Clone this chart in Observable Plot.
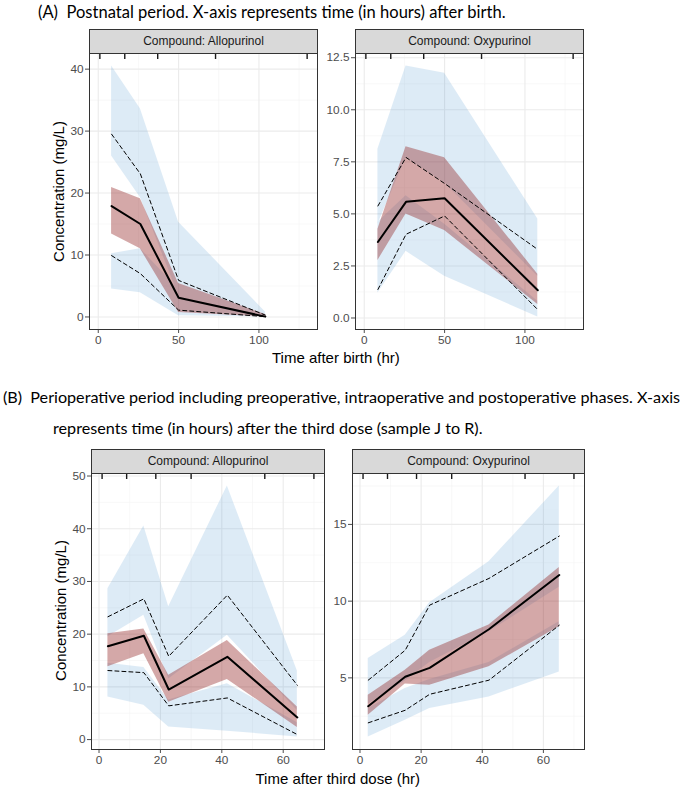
<!DOCTYPE html>
<html><head><meta charset="utf-8">
<script src="https://cdn.jsdelivr.net/npm/d3@7"></script>
<script src="https://cdn.jsdelivr.net/npm/@observablehq/plot@0.6"></script>
<style>
body{margin:0;background:#fff;}
#root{position:relative;width:685px;height:789px;overflow:hidden;font-family:"Liberation Sans",Arial,sans-serif;background:#fff;}
.title{position:absolute;font-family:Lato,"Open Sans",sans-serif;color:#000;white-space:pre;line-height:1.2;}
.strip{position:absolute;background:#d9d9d9;border:1px solid #333;box-sizing:border-box;text-align:center;font-family:"Liberation Sans",Arial,sans-serif;font-weight:400;font-size:12px;color:#1a1a1a;}
.axtitle{position:absolute;font-size:15px;color:#000;white-space:nowrap;line-height:1;}
.svgwrap{position:absolute;}
</style></head><body><div id="root"></div>
<script>
// ---------- Data ----------
// (A) Postnatal — Allopurinol
const aAlloTime      = [8.3, 26.2, 50, 104];
const aAlloMedian    = [17.9, 15.0, 3.1, 0.05];
const aAlloMedianLo  = [13.4, 11.0, 0.7, 0];
const aAlloMedianHi  = [20.9, 19.1, 5.4, 0.4];
const aAlloObs95     = [29.5, 23.1, 5.9, 0.3];
const aAlloObs5      = [9.9, 7.0, 1.1, 0.05];
const aAlloP95Lo     = [26.0, 19.3, 3.5, 0.1];
const aAlloP95Hi     = [40.5, 33.6, 15.3, 0.8];
const aAlloP5Lo      = [4.5, 3.9, 0.2, 0];
const aAlloP5Hi      = [10.2, 11.0, 4.5, 0.4];
// (A) Postnatal — Oxypurinol
const aOxyTime       = [8.5, 26, 50, 108];
const aOxyMedian     = [3.65, 5.58, 5.75, 1.33];
const aOxyMedianLo   = [2.76, 5.0, 4.2, 0.65];
const aOxyMedianHi   = [4.26, 8.23, 7.7, 2.1];
const aOxyObs95      = [5.38, 7.71, 6.46, 3.29];
const aOxyObs5       = [1.37, 4.02, 4.9, 0.4];
const aOxyP95Lo      = [4.5, 7.7, 6.5, 2.0];
const aOxyP95Hi      = [8.1, 12.1, 11.75, 4.75];
const aOxyP5Lo       = [1.2, 3.2, 2.0, 0.05];
const aOxyP5Hi       = [4.6, 5.87, 4.5, 0.8];
// (B) Perioperative — Allopurinol
const bAlloTime      = [2.9, 14.6, 22.7, 41.8, 64.6];
const bAlloMedian    = [17.7, 19.7, 9.5, 15.7, 4.2];
const bAlloMedianLo  = [13.8, 16.3, 7.1, 11.4, 2.3];
const bAlloMedianHi  = [20.1, 21.0, 12.2, 18.8, 6.2];
const bAlloObs95     = [23.3, 26.7, 15.8, 27.4, 10.3];
const bAlloObs5      = [13.1, 12.7, 6.4, 7.9, 0.95];
const bAlloP95Lo     = [19.5, 23.6, 11.5, 19.8, 5.5];
const bAlloP95Hi     = [28.6, 40.5, 25.2, 48.1, 13.0];
const bAlloP5Lo      = [8.1, 6.5, 2.4, 1.6, 0.5];
const bAlloP5Hi      = [14.5, 13.7, 7.5, 10.6, 3.2];
// (B) Perioperative — Oxypurinol
const bOxyTime       = [2.7, 14.8, 22.8, 42.2, 65.2];
const bOxyMedian     = [3.15, 5.07, 5.65, 8.17, 11.7];
const bOxyMedianLo   = [2.57, 4.6, 4.52, 5.72, 8.33];
const bOxyMedianHi   = [3.87, 5.5, 6.8, 8.45, 12.2];
const bOxyObs95      = [4.85, 6.8, 9.74, 11.48, 14.24];
const bOxyObs5       = [2.07, 2.89, 3.93, 4.85, 8.43];
const bOxyP95Lo      = [3.3, 4.8, 6.0, 8.0, 10.9];
const bOxyP95Hi      = [6.26, 7.78, 9.9, 12.57, 17.5];
const bOxyP5Lo       = [1.15, 2.24, 3.0, 3.76, 5.39];
const bOxyP5Hi       = [3.0, 4.3, 4.9, 6.0, 8.65];
// Bin boundaries (rug at top of panels)
const aRug = [1, 16.5, 37, 73, 130];
const bRug = [1, 9, 18.5, 30, 54, 70];
// Tick labels
const aXTicks = [0, 50, 100];
const aXMinor = [25, 75, 125];
const bXTicks = [0, 20, 40, 60];
const bXMinor = [10, 30, 50, 70];
const aAlloYTicks = [0, 10, 20, 30, 40];
const aAlloYMinor = [5, 15, 25, 35];
const aOxyYTicks = [0, 2.5, 5, 7.5, 10, 12.5];
const aOxyYMinor = [1.25, 3.75, 6.25, 8.75, 11.25];
const bAlloYTicks = [0, 10, 20, 30, 40, 50];
const bAlloYMinor = [5, 15, 25, 35, 45];
const bOxyYTicks = [5, 10, 15];
const bOxyYMinor = [2.5, 7.5, 12.5, 17.5];

const titleA = "(A)  Postnatal period. X-axis represents time (in hours) after birth.";
const titleB1 = "(B)  Perioperative period including preoperative, intraoperative and postoperative phases. X-axis";
const titleB2 = "represents time (in hours) after the third dose (sample J to R).";

// ---------- Drawing ----------
const root = document.getElementById("root");
function addDiv(cls, text, css) {
  const d = document.createElement("div");
  d.className = cls; d.textContent = text;
  Object.assign(d.style, css); root.appendChild(d); return d;
}

function panel(p) {
  const ml = 40, mt = 1, mr = 2, mb = 22;
  const rows = p.time.map((t, i) => ({
    t, med: p.med[i], medLo: p.medLo[i], medHi: p.medHi[i],
    o95: p.o95[i], o5: p.o5[i]
  }));
  const bands = [
    ...p.time.map((t, i) => ({t, lo: p.p95Lo[i], hi: p.p95Hi[i], band: "p95"})),
    ...p.time.map((t, i) => ({t, lo: p.p5Lo[i], hi: p.p5Hi[i], band: "p5"}))
  ];
  const yAll = [...p.med, ...p.medLo, ...p.medHi, ...p.o95, ...p.o5, ...p.p95Lo, ...p.p95Hi, ...p.p5Lo, ...p.p5Hi];
  const y0 = d3.min(yAll), y1 = d3.max(yAll), ry = y1 - y0;
  const x0 = d3.min(p.rug), x1 = d3.max(p.rug), rx = x1 - x0;
  const svg = Plot.plot({
    width: p.width + ml + mr, height: p.height + mt + mb,
    marginLeft: ml, marginTop: mt, marginRight: mr, marginBottom: mb,
    style: {fontFamily: "Liberation Sans, Arial, sans-serif", fontSize: "11.8px", color: "#4d4d4d", background: "transparent", overflow: "visible"},
    x: {domain: [x0 - 0.05 * rx, x1 + 0.05 * rx], ticks: p.xTicks, tickSize: 4, tickPadding: 2, label: null},
    y: {domain: [y0 - 0.05 * ry, y1 + 0.05 * ry], ticks: p.yTicks, tickFormat: p.yFormat, tickSize: 4, tickPadding: 2, label: null},
    marks: [
      Plot.ruleX(p.xMinor, {stroke: "#f3f3f3", strokeWidth: 0.6}),
      Plot.ruleY(p.yMinor, {stroke: "#f3f3f3", strokeWidth: 0.6}),
      Plot.ruleX(p.xTicks, {stroke: "#ebebeb", strokeWidth: 1.1}),
      Plot.ruleY(p.yTicks, {stroke: "#ebebeb", strokeWidth: 1.1}),
      Plot.areaY(bands, {x: "t", y1: "lo", y2: "hi", z: "band", fill: "#3388cc"}),
      Plot.areaY(rows, {x: "t", y1: "medLo", y2: "medHi", fill: "#942626", fillOpacity: 0.4}),
      Plot.lineY(rows, {x: "t", y: "o95", stroke: "#000", strokeWidth: 1, strokeDasharray: "4,3"}),
      Plot.lineY(rows, {x: "t", y: "o5", stroke: "#000", strokeWidth: 1, strokeDasharray: "4,3"}),
      Plot.lineY(rows, {x: "t", y: "med", stroke: "#000", strokeWidth: 2}),
      Plot.ruleX(p.rug, {stroke: "#1a1a1a", strokeWidth: 1.4, insetBottom: p.height - 6}),
      Plot.frame({stroke: "#333", strokeWidth: 1})
    ]
  });
  // blue CI bands drawn as one translucent union
  const areas = svg.querySelectorAll('g[aria-label="area"]');
  if (areas.length) areas[0].setAttribute("opacity", "0.16");
  const wrap = document.createElement("div");
  wrap.className = "svgwrap";
  wrap.style.left = (p.left - ml) + "px";
  wrap.style.top = (p.top - mt) + "px";
  wrap.appendChild(svg);
  root.appendChild(wrap);
  addDiv("strip", p.strip, {left: p.left + "px", top: p.stripTop + "px", width: (p.width + 1) + "px", height: (p.top - p.stripTop + 1) + "px", lineHeight: (p.top - p.stripTop - 1) + "px"});
}

const fmt1 = d3.format(".1f");
const fmt0 = d3.format("d");

panel({left: 89, top: 53, width: 228, height: 276, stripTop: 29, strip: "Compound: Allopurinol",
  time: aAlloTime, med: aAlloMedian, medLo: aAlloMedianLo, medHi: aAlloMedianHi, o95: aAlloObs95, o5: aAlloObs5,
  p95Lo: aAlloP95Lo, p95Hi: aAlloP95Hi, p5Lo: aAlloP5Lo, p5Hi: aAlloP5Hi, rug: aRug,
  xTicks: aXTicks, xMinor: aXMinor, yTicks: aAlloYTicks, yMinor: aAlloYMinor, yFormat: fmt0});
panel({left: 355, top: 53, width: 228, height: 276, stripTop: 29, strip: "Compound: Oxypurinol",
  time: aOxyTime, med: aOxyMedian, medLo: aOxyMedianLo, medHi: aOxyMedianHi, o95: aOxyObs95, o5: aOxyObs5,
  p95Lo: aOxyP95Lo, p95Hi: aOxyP95Hi, p5Lo: aOxyP5Lo, p5Hi: aOxyP5Hi, rug: aRug,
  xTicks: aXTicks, xMinor: aXMinor, yTicks: aOxyYTicks, yMinor: aOxyYMinor, yFormat: fmt1});
panel({left: 91, top: 473, width: 233, height: 276, stripTop: 449, strip: "Compound: Allopurinol",
  time: bAlloTime, med: bAlloMedian, medLo: bAlloMedianLo, medHi: bAlloMedianHi, o95: bAlloObs95, o5: bAlloObs5,
  p95Lo: bAlloP95Lo, p95Hi: bAlloP95Hi, p5Lo: bAlloP5Lo, p5Hi: bAlloP5Hi, rug: bRug,
  xTicks: bXTicks, xMinor: bXMinor, yTicks: bAlloYTicks, yMinor: bAlloYMinor, yFormat: fmt0});
panel({left: 352, top: 473, width: 232, height: 276, stripTop: 449, strip: "Compound: Oxypurinol",
  time: bOxyTime, med: bOxyMedian, medLo: bOxyMedianLo, medHi: bOxyMedianHi, o95: bOxyObs95, o5: bOxyObs5,
  p95Lo: bOxyP95Lo, p95Hi: bOxyP95Hi, p5Lo: bOxyP5Lo, p5Hi: bOxyP5Hi, rug: bRug,
  xTicks: bXTicks, xMinor: bXMinor, yTicks: bOxyYTicks, yMinor: bOxyYMinor, yFormat: fmt0});

// axis titles
function centered(text, cx, cy, rotate) {
  const d = addDiv("axtitle", text, {left: "0px", top: "0px"});
  const w = d.offsetWidth, h = d.offsetHeight;
  d.style.left = (cx - w / 2) + "px";
  d.style.top = (cy - h / 2) + "px";
  if (rotate) d.style.transform = "rotate(-90deg)";
}
centered("Concentration (mg/L)", 58, 191, true);
centered("Time after birth (hr)", 336, 357, false);
centered("Concentration (mg/L)", 60, 610, true);
centered("Time after third dose (hr)", 338, 778, false);

// titles, sized to the reference widths
function title(text, left, cy, targetW, fs) {
  const d = addDiv("title", text, {left: left + "px", top: "0px", fontSize: "16px"});
  if (!fs) { const w = d.getBoundingClientRect().width; fs = 16 * targetW / w; }
  d.style.fontSize = fs + "px";
  d.style.top = (cy - fs * 0.62) + "px";
  return fs;
}
title(titleA, 38, 13, 468);
const fsB = title(titleB1, 3, 397, 678);
title(titleB2, 53, 428, 0, fsB);
</script></body></html>
